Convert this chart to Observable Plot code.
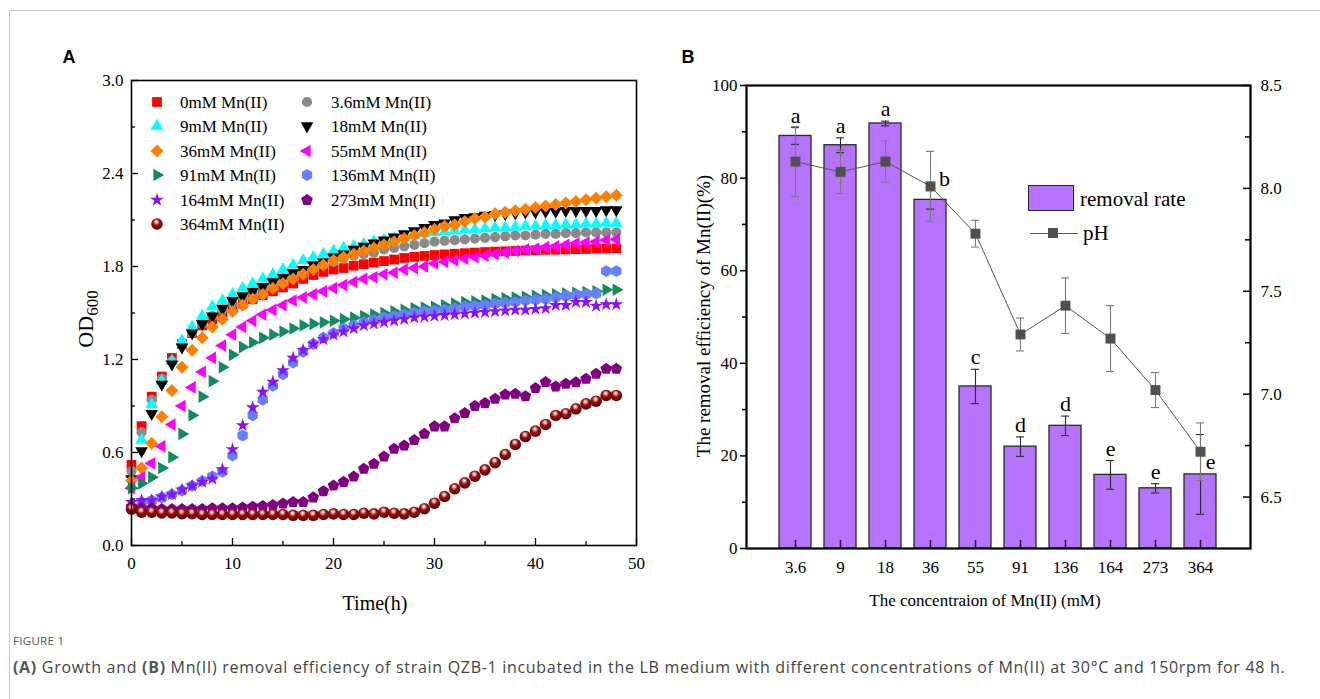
<!DOCTYPE html>
<html>
<head>
<meta charset="utf-8">
<script src="https://cdn.jsdelivr.net/npm/d3@7"></script>
<script src="https://cdn.jsdelivr.net/npm/@observablehq/plot@0.6"></script>
<style>
html,body{margin:0;padding:0;background:#fff;}
body{width:1320px;height:699px;position:relative;overflow:hidden;font-family:"Liberation Serif","Times New Roman",serif;color:#000;}
#border{position:absolute;left:9px;top:10px;width:1400px;height:800px;border-left:1px solid #c6c6c6;border-top:1px solid #c6c6c6;}
.panel{position:absolute;font:bold 18px "Liberation Sans",Arial,sans-serif;transform:translate(-50%,-50%);}
.leg{position:absolute;font-size:17px;line-height:1;white-space:nowrap;transform:translateY(-50%);}
.legsym{position:absolute;}
.rot{position:absolute;transform:translate(-50%,-50%) rotate(-90deg);white-space:nowrap;line-height:1;}
.ctr{position:absolute;transform:translate(-50%,-50%);white-space:nowrap;line-height:1;}
#fig{position:absolute;left:13px;top:633px;font:11.5px "Open Sans",sans-serif;color:#555;letter-spacing:0.3px;}
#cap{position:absolute;left:13px;top:656px;font:16px "Open Sans",sans-serif;color:#444;white-space:nowrap;letter-spacing:0.7px;}
#cap b{color:#555;}
.plotbox{position:absolute;}
</style>
</head>
<body>
<svg width="0" height="0" style="position:absolute">
  <defs>
    <radialGradient id="ballGrad" cx="0.45" cy="0.38" r="0.62" fx="0.45" fy="0.3">
      <stop offset="0" stop-color="#ffffff"/>
      <stop offset="0.2" stop-color="#e4a8a8"/>
      <stop offset="0.45" stop-color="#9c0d0d"/>
      <stop offset="1" stop-color="#580000"/>
    </radialGradient>
  </defs>
</svg>
<div id="border"></div>
<div class="panel" style="left:69px;top:57px">A</div>
<div class="panel" style="left:688px;top:57px">B</div>
<div id="plotA" class="plotbox" style="left:60px;top:60px"></div>
<div id="plotB" class="plotbox" style="left:690px;top:60px"></div>
<div id="legA"></div>
<div id="legB"></div>
<div class="ctr" style="left:375px;top:603px;font-size:20px">Time(h)</div>
<div class="rot" style="left:86px;top:319px;font-size:22px">OD<span style="font-size:17px;position:relative;top:5px">600</span></div>
<div class="rot" style="left:703px;top:316px;font-size:19px">The removal efficiency of Mn(II)(%)</div>
<div class="ctr" style="left:985px;top:600px;font-size:17px">The concentraion of Mn(II) (mM)</div>
<div id="fig">FIGURE 1</div>
<div id="cap"><b>(A)</b> Growth and <b>(B)</b> Mn(II) removal efficiency of strain QZB-1 incubated in the LB medium with different concentrations of Mn(II) at 30°C and 150rpm for 48 h.</div>
<script>
// ---------------- Panel A data ----------------
const hours = [0,1,2,3,4,5,6,7,8,9,10,11,12,13,14,15,16,17,18,19,20,21,22,23,24,25,26,27,28,29,30,31,32,33,34,35,36,37,38,39,40,41,42,43,44,45,46,47,48];
const od0 = [0.52,0.77,0.96,1.09,1.21,1.30,1.37,1.42,1.46,1.50,1.53,1.56,1.59,1.615,1.64,1.665,1.69,1.72,1.745,1.765,1.78,1.79,1.805,1.815,1.825,1.835,1.845,1.855,1.862,1.868,1.874,1.878,1.882,1.886,1.89,1.893,1.896,1.898,1.90,1.903,1.905,1.907,1.908,1.91,1.912,1.913,1.915,1.916,1.917];
const od3_6 = [0.48,0.73,0.94,1.075,1.19,1.29,1.37,1.43,1.48,1.52,1.56,1.60,1.63,1.66,1.69,1.72,1.74,1.77,1.79,1.81,1.83,1.85,1.87,1.88,1.89,1.91,1.92,1.93,1.94,1.95,1.96,1.965,1.97,1.975,1.98,1.985,1.99,1.995,2.00,2.00,2.005,2.01,2.01,2.015,2.015,2.02,2.02,2.02,2.02];
const od9 = [0.39,0.68,0.91,1.06,1.19,1.32,1.41,1.48,1.54,1.58,1.62,1.66,1.69,1.72,1.75,1.78,1.81,1.84,1.86,1.88,1.90,1.92,1.93,1.945,1.96,1.97,1.98,1.99,2.00,2.01,2.02,2.025,2.03,2.035,2.04,2.045,2.05,2.05,2.055,2.06,2.06,2.065,2.065,2.07,2.07,2.075,2.075,2.08,2.08];
const od18 = [0.43,0.61,0.85,1.04,1.17,1.28,1.37,1.43,1.48,1.53,1.58,1.61,1.64,1.67,1.70,1.73,1.76,1.78,1.81,1.83,1.86,1.88,1.91,1.93,1.95,1.97,1.99,2.01,2.03,2.05,2.07,2.08,2.10,2.115,2.12,2.13,2.135,2.14,2.145,2.15,2.15,2.155,2.155,2.16,2.16,2.16,2.16,2.165,2.165];
const od36 = [0.42,0.50,0.66,0.83,1.00,1.15,1.26,1.34,1.41,1.46,1.51,1.55,1.59,1.62,1.66,1.69,1.72,1.75,1.78,1.81,1.84,1.86,1.88,1.90,1.92,1.94,1.96,1.98,2.00,2.02,2.04,2.06,2.07,2.09,2.11,2.12,2.14,2.15,2.16,2.17,2.18,2.19,2.20,2.21,2.22,2.23,2.24,2.25,2.26];
const od55 = [0.37,0.44,0.53,0.64,0.78,0.90,1.02,1.12,1.21,1.29,1.36,1.41,1.45,1.49,1.52,1.55,1.58,1.60,1.62,1.64,1.66,1.68,1.70,1.72,1.73,1.75,1.76,1.78,1.79,1.80,1.82,1.83,1.84,1.85,1.86,1.87,1.88,1.89,1.90,1.91,1.915,1.925,1.93,1.94,1.95,1.955,1.96,1.97,1.975];
const od91 = [0.37,0.40,0.44,0.50,0.57,0.72,0.84,0.96,1.06,1.15,1.23,1.28,1.31,1.34,1.36,1.38,1.40,1.42,1.43,1.44,1.45,1.46,1.47,1.48,1.49,1.50,1.51,1.52,1.53,1.535,1.54,1.55,1.56,1.57,1.575,1.58,1.59,1.595,1.60,1.605,1.61,1.615,1.62,1.625,1.63,1.635,1.64,1.65,1.65];
const od136 = [0.24,0.28,0.29,0.31,0.33,0.355,0.385,0.415,0.445,0.475,0.58,0.71,0.84,0.94,1.03,1.105,1.18,1.25,1.30,1.34,1.37,1.40,1.42,1.44,1.455,1.47,1.48,1.49,1.50,1.51,1.515,1.52,1.53,1.54,1.545,1.55,1.56,1.565,1.57,1.58,1.585,1.59,1.60,1.61,1.615,1.62,1.625,1.77,1.77];
const od164 = [0.28,0.29,0.29,0.315,0.33,0.36,0.385,0.41,0.43,0.49,0.62,0.775,0.89,0.99,1.055,1.13,1.21,1.26,1.30,1.33,1.36,1.38,1.40,1.42,1.43,1.44,1.45,1.46,1.47,1.475,1.48,1.485,1.49,1.495,1.50,1.505,1.51,1.515,1.52,1.52,1.525,1.53,1.55,1.55,1.57,1.57,1.545,1.555,1.555];
const od273 = [0.25,0.24,0.24,0.235,0.235,0.235,0.235,0.235,0.24,0.24,0.24,0.245,0.25,0.255,0.26,0.27,0.28,0.28,0.31,0.35,0.387,0.41,0.445,0.495,0.527,0.574,0.624,0.645,0.68,0.72,0.768,0.768,0.82,0.854,0.90,0.918,0.946,0.974,0.978,0.963,1.015,1.054,1.026,1.043,1.052,1.075,1.108,1.14,1.14];
const od364 = [0.235,0.215,0.215,0.21,0.21,0.205,0.205,0.2,0.2,0.2,0.2,0.2,0.2,0.2,0.2,0.2,0.195,0.195,0.195,0.2,0.204,0.2,0.2,0.208,0.204,0.215,0.208,0.204,0.215,0.237,0.273,0.316,0.366,0.404,0.447,0.488,0.535,0.587,0.652,0.703,0.738,0.781,0.839,0.85,0.882,0.914,0.931,0.968,0.968];
const legendLabels = ["0mM Mn(II)","3.6mM Mn(II)","9mM Mn(II)","18mM Mn(II)","36mM Mn(II)","55mM Mn(II)","91mM Mn(II)","136mM Mn(II)","164mM Mn(II)","273mM Mn(II)","364mM Mn(II)"];
const odTicks = [0,0.6,1.2,1.8,2.4,3.0];
const odMinorTicks = [0.3,0.9,1.5,2.1,2.7];
const timeTicks = [0,10,20,30,40,50];
const timeMinorTicks = [5,15,25,35,45];

// ---------------- Panel B data ----------------
const concentrations = ["3.6","9","18","36","55","91","136","164","273","364"];
const removalRate = [89.1,87.1,91.8,75.3,35.0,22.0,26.5,15.9,13.0,16.0];
const removalErr = [1.8,1.6,0.5,2.0,3.7,2.1,2.1,3.1,1.0,8.6];
const pHValues = [8.13,8.08,8.13,8.01,7.78,7.29,7.43,7.27,7.02,6.72];
const pHErr = [0.17,0.105,0.10,0.17,0.065,0.08,0.135,0.16,0.085,0.14];
const sigLetters = ["a","a","a","b","c","d","d","e","e","e"];
const removalTicks = [0,20,40,60,80,100];
const removalMinorTicks = [10,30,50,70,90];
const pHTicks = [6.5,7.0,7.5,8.0,8.5];
const pHMinorTicks = [6.75,7.25,7.75,8.25];

// ---------------- symbols ----------------
const sqrt3 = Math.sqrt(3);
function tri(angle) {
  return {draw(ctx, size) {
    const y = -Math.sqrt(size / (sqrt3 * 3));
    const pts = [[0, y * 2], [-sqrt3 * y, -y], [sqrt3 * y, -y]];
    const c = Math.cos(angle), s = Math.sin(angle);
    pts.forEach(([px, py], i) => {
      const X = px * c - py * s, Y = px * s + py * c;
      if (i) ctx.lineTo(X, Y); else ctx.moveTo(X, Y);
    });
    ctx.closePath();
  }};
}
function polygon(n, rot, areaK) {
  return {draw(ctx, size) {
    const R = Math.sqrt(size / areaK);
    for (let i = 0; i < n; i++) {
      const a = rot + i * 2 * Math.PI / n;
      const X = R * Math.sin(a), Y = -R * Math.cos(a);
      if (i) ctx.lineTo(X, Y); else ctx.moveTo(X, Y);
    }
    ctx.closePath();
  }};
}
const diamondSym = {draw(ctx, size) {
  const h = Math.sqrt(size / 2);
  ctx.moveTo(0, -h); ctx.lineTo(h, 0); ctx.lineTo(0, h); ctx.lineTo(-h, 0); ctx.closePath();
}};
const symbolTypes = {
  square: d3.symbolSquare,
  circle: d3.symbolCircle,
  diamond: diamondSym,
  star: d3.symbolStar,
  triUp: tri(0),
  triDown: tri(Math.PI),
  triLeft: tri(-Math.PI / 2),
  triRight: tri(Math.PI / 2),
  hexagon: polygon(6, 0, 1.5 * sqrt3),
  pentagon: polygon(5, 0, 2.5 * Math.sin(2 * Math.PI / 5))
};
const seriesValues = [od0, od3_6, od9, od18, od36, od55, od91, od136, od164, od273, od364];
const seriesStyle = [
  {color: "#ff0000", sym: "square", r: 5.5},
  {color: "#8a8a8a", sym: "circle", r: 5.1},
  {color: "#00ffff", sym: "triUp", r: 4.7},
  {color: "#000000", sym: "triDown", r: 4.7},
  {color: "#ff8000", sym: "diamond", r: 5.2},
  {color: "#ff00ff", sym: "triLeft", r: 4.7},
  {color: "#148b5f", sym: "triRight", r: 4.7},
  {color: "#6680ff", sym: "hexagon", r: 5.4},
  {color: "#8a10ff", sym: "star", r: 4.3},
  {color: "#800080", sym: "pentagon", r: 5.3},
  {color: "url(#ballGrad)", sym: "circle", r: 5.8}
];

// ---------------- Panel A plot ----------------
const aW = 590, aH = 560, aML = 71, aMR = 14, aMT = 20, aMB = 75;
const aPW = aW - aML - aMR, aPH = aH - aMT - aMB;
const plotA = Plot.plot({
  width: aW, height: aH,
  marginLeft: aML, marginRight: aMR, marginTop: aMT, marginBottom: aMB,
  style: {background: "transparent", fontFamily: "Liberation Serif, serif", fontSize: "17px", color: "#000", overflow: "visible"},
  x: {domain: [0, 50]},
  y: {domain: [0, 3]},
  marks: [
    ...seriesValues.map((vals, k) => Plot.dot(hours, {
      x: d => d, y: (d, i) => vals[i],
      symbol: symbolTypes[seriesStyle[k].sym], r: seriesStyle[k].r,
      fill: seriesStyle[k].color, stroke: null
    })),
    Plot.axisX({ticks: timeTicks, tickSize: 0, tickPadding: 11, label: null, fontSize: 17, tickFormat: d => String(d)}),
    Plot.axisY({ticks: odTicks, tickSize: 0, tickPadding: 8, label: null, fontSize: 17, tickFormat: d3.format(".1f")}),
    Plot.tickX(timeTicks, {x: d => d, insetTop: aPH - 7, stroke: "#000", strokeWidth: 1.3}),
    Plot.tickX(timeMinorTicks, {x: d => d, insetTop: aPH - 4, stroke: "#000", strokeWidth: 1.3}),
    Plot.tickY(odTicks, {y: d => d, insetRight: aPW - 7, stroke: "#000", strokeWidth: 1.3}),
    Plot.tickY(odMinorTicks, {y: d => d, insetRight: aPW - 4, stroke: "#000", strokeWidth: 1.3}),
    Plot.frame({stroke: "#000", strokeWidth: 1.6})
  ]
});
document.getElementById("plotA").appendChild(plotA);

// legend A (inside the frame)
const legA = document.getElementById("legA");
legendLabels.forEach((lab, i) => {
  const row = Math.floor(i / 2), col = i % 2;
  const cy = 102 + row * 24.4;
  const sx = col ? 307 : 157;
  const tx = col ? 331 : 180;
  const st = seriesStyle[i];
  const size = Math.PI * st.r * st.r;
  const path = d3.symbol(symbolTypes[st.sym], size)();
  const s = document.createElement("div");
  s.className = "legsym";
  s.style.left = (sx - 10) + "px";
  s.style.top = (cy - 10) + "px";
  s.innerHTML = `<svg width="20" height="20" viewBox="-10 -10 20 20"><path d="${path}" fill="${st.color}"/></svg>`;
  legA.appendChild(s);
  const t = document.createElement("div");
  t.className = "leg";
  t.style.left = tx + "px";
  t.style.top = cy + "px";
  t.textContent = lab;
  legA.appendChild(t);
});

// ---------------- Panel B plot ----------------
const pHlo = 6.25, pHhi = 8.5;
const pHtoY = v => (v - pHlo) / (pHhi - pHlo) * 100;
const yToPH = v => v / 100 * (pHhi - pHlo) + pHlo;
const rowsB = concentrations.map((c, i) => ({
  conc: c, removal: removalRate[i], rErr: removalErr[i],
  pH: pHValues[i], pErr: pHErr[i], letter: sigLetters[i]
}));
const bW = 610, bH = 560, bML = 56, bMR = 50, bMT = 25, bMB = 72;
const bPW = bW - bML - bMR, bPH = bH - bMT - bMB;
const letterNormal = rowsB.filter(d => d.conc !== "36" && d.conc !== "364");
const plotB = Plot.plot({
  width: bW, height: bH,
  marginLeft: bML, marginRight: bMR, marginTop: bMT, marginBottom: bMB,
  style: {background: "transparent", fontFamily: "Liberation Serif, serif", fontSize: "17px", color: "#000", overflow: "visible"},
  x: {domain: concentrations, paddingInner: 0.28, paddingOuter: 0.66},
  y: {domain: [0, 100]},
  marks: [
    Plot.barY(rowsB, {x: "conc", y: "removal", fill: "#b574fb", stroke: "#2a2a2a", strokeWidth: 1.3}),
    // removal error bars
    Plot.ruleX(rowsB, {x: "conc", y1: d => d.removal - d.rErr, y2: d => d.removal + d.rErr, stroke: "#2a2a2a", strokeWidth: 1.1}),
    Plot.tickY(rowsB, {x: "conc", y: d => d.removal - d.rErr, insetLeft: 12, insetRight: 12, stroke: "#2a2a2a", strokeWidth: 1.1}),
    Plot.tickY(rowsB, {x: "conc", y: d => d.removal + d.rErr, insetLeft: 12, insetRight: 12, stroke: "#2a2a2a", strokeWidth: 1.1}),
    // pH error bars
    Plot.ruleX(rowsB, {x: "conc", y1: d => pHtoY(d.pH - d.pErr), y2: d => pHtoY(d.pH + d.pErr), stroke: "#7a7a7a", strokeWidth: 1.1}),
    Plot.tickY(rowsB, {x: "conc", y: d => pHtoY(d.pH - d.pErr), insetLeft: 12, insetRight: 12, stroke: "#7a7a7a", strokeWidth: 1.1}),
    Plot.tickY(rowsB, {x: "conc", y: d => pHtoY(d.pH + d.pErr), insetLeft: 12, insetRight: 12, stroke: "#7a7a7a", strokeWidth: 1.1}),
    Plot.line(rowsB, {x: "conc", y: d => pHtoY(d.pH), stroke: "#555", strokeWidth: 1}),
    Plot.dot(rowsB, {x: "conc", y: d => pHtoY(d.pH), symbol: "square", r: 5.6, fill: "#505050", stroke: null}),
    // significance letters
    Plot.text(letterNormal, {x: "conc", y: d => d.removal + d.rErr, text: "letter", lineAnchor: "bottom", dy: -5, fontSize: 22}),
    Plot.text(rowsB.filter(d => d.conc === "36"), {x: "conc", y: d => d.removal + d.rErr, text: "letter", lineAnchor: "bottom", dy: -5, dx: 14, fontSize: 22}),
    Plot.text(rowsB.filter(d => d.conc === "364"), {x: "conc", y: "removal", text: "letter", lineAnchor: "bottom", dy: -5, dx: 10, fontSize: 22}),
    // axes
    Plot.axisX({tickSize: 0, tickPadding: 12, label: null, fontSize: 17}),
    Plot.tickX(rowsB, {x: "conc", insetTop: bPH - 8, stroke: "#000", strokeWidth: 1.5}),
    Plot.axisY({ticks: removalTicks, tickSize: 6, tickPadding: 3, label: null, fontSize: 17, strokeWidth: 1.5}),
    Plot.axisY({ticks: removalMinorTicks, tickSize: 4, tickPadding: 3, label: null, tickFormat: () => "", strokeWidth: 1.5}),
    Plot.axisY({anchor: "right", ticks: pHTicks.map(pHtoY), tickFormat: v => yToPH(v).toFixed(1), tickSize: 0, tickPadding: 10, label: null, fontSize: 17}),
    Plot.tickY(pHTicks.map(pHtoY), {y: d => d, insetLeft: bPW - 7, stroke: "#000", strokeWidth: 1.5}),
    Plot.tickY(pHMinorTicks.map(pHtoY), {y: d => d, insetLeft: bPW - 5, stroke: "#000", strokeWidth: 1.5}),
    Plot.frame({stroke: "#000", strokeWidth: 2.2})
  ]
});
document.getElementById("plotB").appendChild(plotB);

// legend B (inside the frame)
const legB = document.getElementById("legB");
legB.innerHTML = `
  <div style="position:absolute;left:1028px;top:185px;width:44px;height:24px;background:#b574fb;border:1.5px solid #2a2a2a"></div>
  <div class="leg" style="left:1080px;top:199px;font-size:21px">removal rate</div>
  <div style="position:absolute;left:1030px;top:232.5px;width:48px;height:1px;background:#555"></div>
  <div style="position:absolute;left:1048px;top:228px;width:10px;height:10px;background:#505050"></div>
  <div class="leg" style="left:1083px;top:233px;font-size:21px">pH</div>
`;
</script>
</body>
</html>
